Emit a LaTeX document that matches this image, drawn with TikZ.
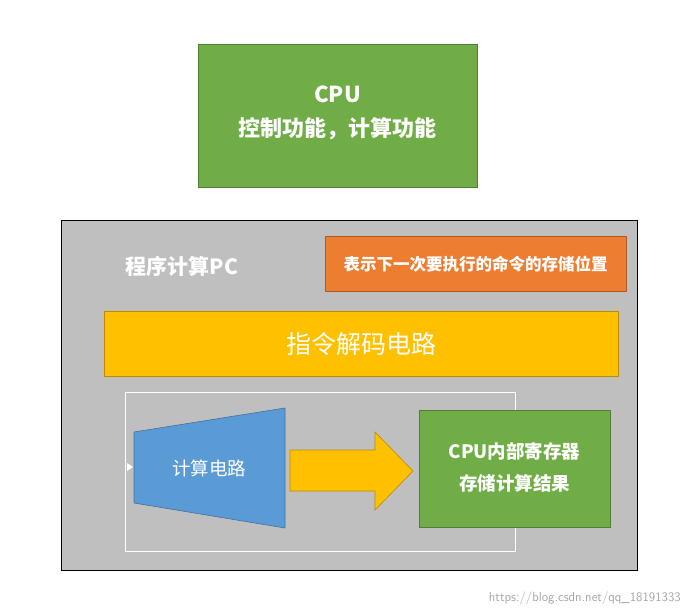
\documentclass[tikz,border=0pt]{standalone}
\usepackage{fontspec}
\setmainfont{Noto Sans CJK SC}
\usetikzlibrary{shapes.arrows}
\definecolor{gr}{HTML}{70AD47}
\definecolor{grd}{HTML}{507E32}
\definecolor{gy}{HTML}{BFBFBF}
\definecolor{og}{HTML}{ED7D31}
\definecolor{ogd}{HTML}{AE5A21}
\definecolor{yl}{HTML}{FFC000}
\definecolor{yld}{HTML}{BC8C00}
\definecolor{bl}{HTML}{5B9BD5}
\definecolor{bld}{HTML}{41719C}
\tikzset{x=1pt,y=-1pt,
 txt/.style={text=white,align=center,inner sep=0pt},
 box/.style={draw=#1,line width=0.6pt}}
\begin{document}
\begin{tikzpicture}
\useasboundingbox[fill=white] (0,0) rectangle (689,616);
\draw[box=grd,fill=gr] (198,44) rectangle (477,187);
\node[txt,font=\fontsize{22}{34}\selectfont\bfseries] (cpu) at (337.5,113) {CPU\\控制功能，计算功能};
\draw[black,fill=gy,line width=0.6pt] (61,220) rectangle (637,570);
\node[txt,font=\fontsize{21}{24}\selectfont\bfseries] (pc) at (182,266) {程序计算PC};
\draw[box=ogd,fill=og] (325,236) rectangle (626,291);
\node[txt,font=\fontsize{16.5}{20}\selectfont\bfseries] (o) at (475.5,264) {表示下一次要执行的命令的存储位置};
\draw[box=yld,fill=yl] (104,311) rectangle (618,376);
\node[txt,font=\fontsize{25}{30}\selectfont] (dec) at (361,344) {指令解码电路};
\draw[white,line width=0.8pt] (125,392) rectangle (515,551);
\fill[white] (127,463) -- (133,467) -- (127,471) -- cycle;
\draw[box=bld,fill=bl] (134,432) -- (285,408) -- (285,528) -- (134,503) -- cycle;
\node[txt,font=\fontsize{18.5}{22}\selectfont] (calc) at (209,468) {计算电路};
\draw[box=yld,fill=yl] (290,450) -- (375,450) -- (375,432) -- (413,471) -- (375,510) -- (375,491) -- (290,491) -- cycle;
\draw[box=grd,fill=gr] (419,410) rectangle (610,527);
\node[txt,font=\fontsize{18.5}{32}\selectfont\bfseries] (reg) at (514.5,467) {CPU内部寄存器\\存储计算结果};
\node[text=gray!70,font=\fontsize{13}{15}\selectfont\sffamily,anchor=east,inner sep=0pt] (wm) at (681,598) {https://blog.csdn.net/qq\_18191333};
\end{tikzpicture}
\end{document}
